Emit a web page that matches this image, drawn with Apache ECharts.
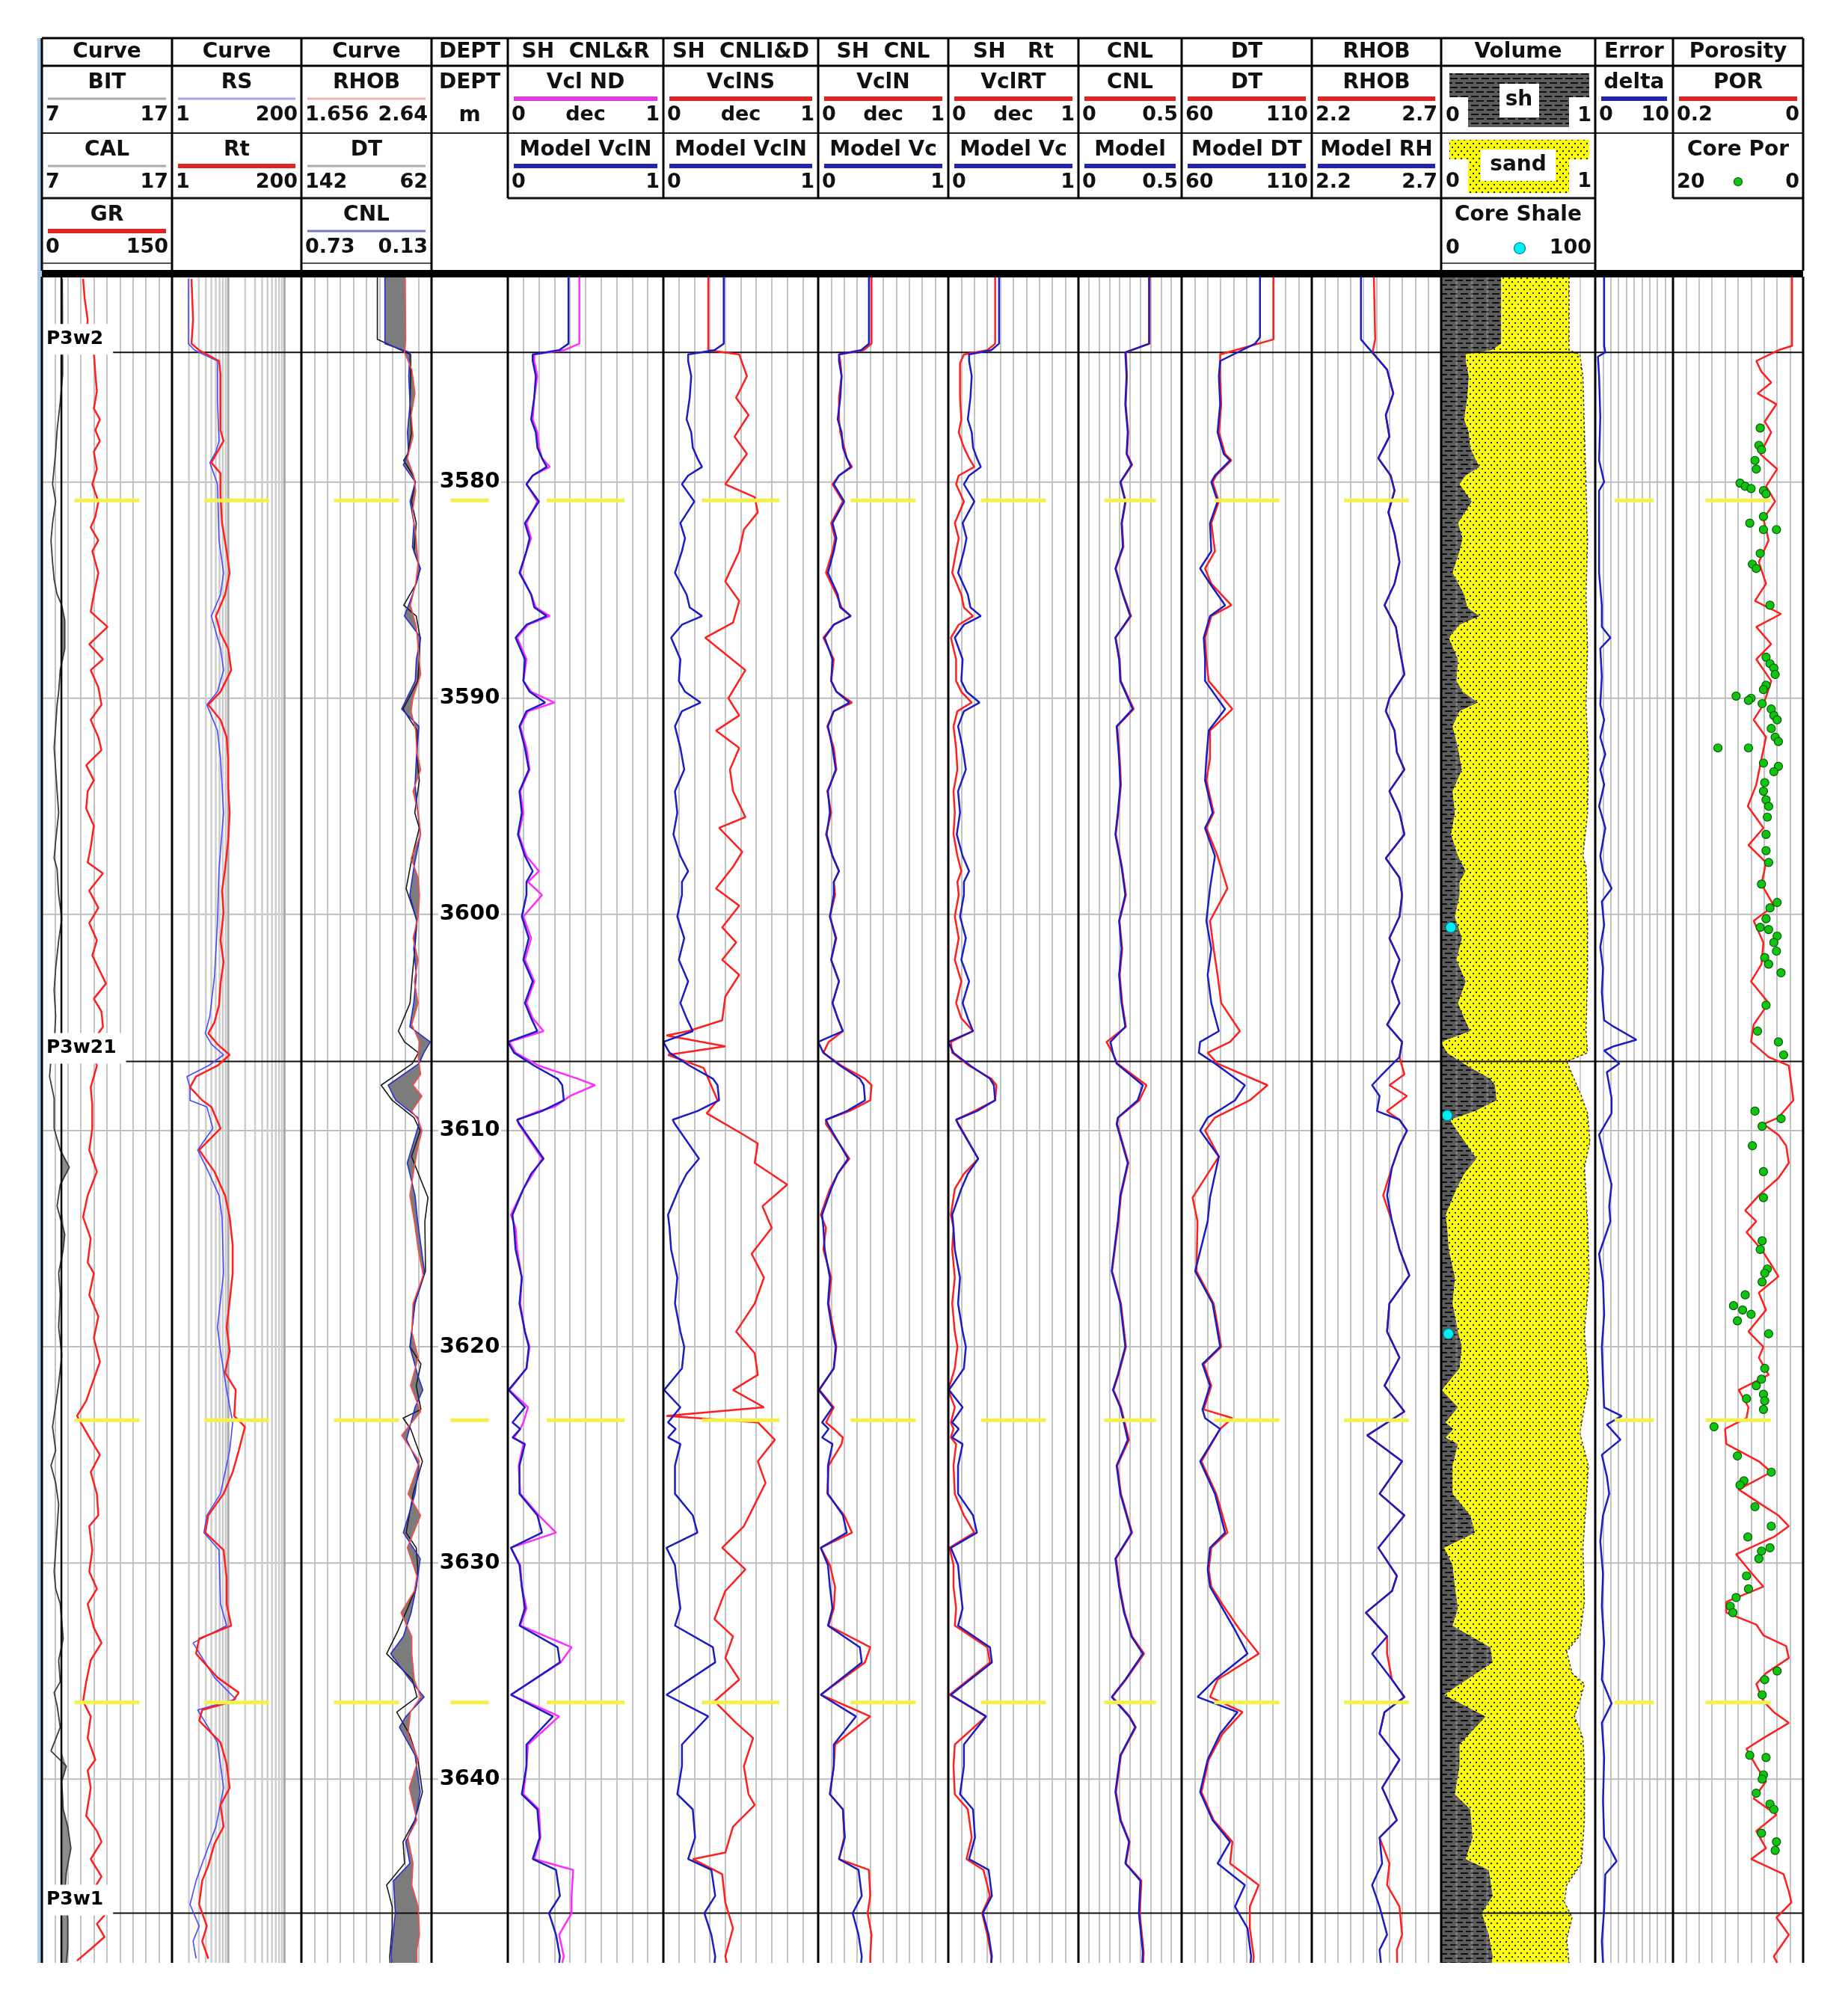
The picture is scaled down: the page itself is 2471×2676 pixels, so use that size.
<!DOCTYPE html>
<html>
<head>
<meta charset="utf-8">
<title>Well log P3w</title>
<script src="https://cdn.jsdelivr.net/npm/echarts@6.0.0/dist/echarts.min.js"></script>
<style>
  html, body { margin: 0; padding: 0; background: #fff; }
  #log { width: 2471px; height: 2676px; }
</style>
</head>
<body>
<div id="log"></div>
<script>
// * depth window and markers
const DEPTH_MIN = 3570.5
const DEPTH_MAX = 3648.5
const DEPTH_TICKS = [3580, 3590, 3600, 3610, 3620, 3630, 3640]
const TOP_NAMES = ['P3w2', 'P3w21', 'P3w1']
const TOP_DEPTHS = [3574.0, 3606.8, 3646.2]
const MARK_DEPTHS = [3580.85, 3623.4, 3636.45]
const LOG_GRID = [2, 3, 4, 5, 6, 7, 8, 9, 10, 20, 30, 40, 50, 60, 70, 80, 90, 100]
const VOL_TICKS = [1, 2, 3, 4, 5, 6, 7, 8, 9]

// * curves, every point is [depth, value]
const BIT = [[3570.5, 8.5], [3648.5, 8.5]]
const CAL = [[3570.6,8.57],[3575.0,8.6],[3576.3,8.41],[3577.6,8.17],[3578.6,8.06],[3580.1,7.82],[3580.9,8.06],[3581.9,7.82],[3582.7,7.7],[3583.7,7.82],[3584.5,7.94],[3585.2,8.17],[3585.7,8.53],[3586.4,8.76],[3587.7,8.76],[3588.7,8.41],[3589.7,8.29],[3590.3,8.17],[3591.3,8.06],[3592.3,7.94],[3593.3,8.06],[3594.3,8.17],[3595.3,8.29],[3596.6,8.06],[3597.4,7.94],[3597.9,8.17],[3599.1,8.29],[3600.2,8.53],[3601.2,8.29],[3602.5,8.06],[3603.5,7.94],[3604.7,8.06],[3606.0,7.94],[3606.7,7.7],[3607.5,7.59],[3608.5,7.94],[3609.9,7.94],[3610.9,8.41],[3611.7,9.11],[3612.5,8.41],[3613.5,8.17],[3614.8,8.76],[3615.5,8.64],[3616.6,8.29],[3617.6,8.41],[3619.1,8.29],[3620.4,8.53],[3621.7,8.29],[3622.7,8.06],[3623.7,7.82],[3624.8,8.06],[3625.5,7.7],[3626.3,8.06],[3627.3,8.29],[3629.4,8.06],[3630.4,7.94],[3631.2,8.06],[3631.9,8.41],[3633.5,8.64],[3634.5,8.29],[3635.5,8.41],[3636.0,7.94],[3636.6,8.17],[3637.6,8.41],[3638.7,7.7],[3639.4,8.88],[3640.1,8.53],[3641.4,8.64],[3642.2,8.99],[3643.2,9.23],[3644.3,8.88],[3645.3,8.76],[3646.5,8.99],[3647.8,8.99],[3648.5,8.88]]
const GR = [[3570.6,47.5],[3571.5,49.3],[3572.5,52.8],[3573.6,51.0],[3574.0,59.9],[3575.0,61.6],[3575.8,63.4],[3576.6,59.9],[3577.1,66.9],[3577.6,61.6],[3578.1,66.9],[3578.6,59.9],[3579.4,63.4],[3580.1,58.1],[3580.9,65.1],[3581.6,61.6],[3582.1,56.3],[3582.7,65.1],[3583.2,58.1],[3584.2,65.1],[3585.2,59.9],[3586.0,56.3],[3586.7,75.7],[3587.5,54.6],[3588.2,70.4],[3588.7,56.3],[3589.5,65.1],[3590.3,68.7],[3591.0,56.3],[3591.8,65.1],[3592.4,68.7],[3593.1,51.1],[3593.8,59.9],[3594.3,52.8],[3595.1,51.1],[3595.9,59.9],[3596.9,56.3],[3597.6,52.8],[3598.1,70.4],[3598.9,54.6],[3599.7,65.1],[3600.4,54.6],[3601.2,63.4],[3601.9,58.1],[3603.2,73.9],[3603.9,59.9],[3604.5,68.7],[3605.2,70.4],[3606.0,56.3],[3607.0,63.4],[3608.0,56.3],[3608.8,58.1],[3609.9,58.1],[3610.9,54.6],[3611.9,63.4],[3613.0,52.8],[3614.0,47.5],[3615.0,56.3],[3616.1,52.8],[3616.6,59.9],[3617.6,54.6],[3618.6,65.1],[3619.6,59.9],[3620.7,66.9],[3621.7,58.1],[3622.5,51.1],[3623.2,40.5],[3624.3,56.3],[3625.0,66.9],[3625.8,56.3],[3626.8,63.4],[3627.8,65.1],[3628.3,54.6],[3629.4,58.1],[3630.4,54.6],[3631.2,63.4],[3631.9,52.8],[3633.0,59.9],[3633.7,68.7],[3634.5,56.3],[3635.5,51.1],[3636.4,47.5],[3637.1,56.3],[3638.1,52.8],[3639.1,61.6],[3639.6,52.8],[3640.4,56.3],[3641.7,51.1],[3642.4,63.4],[3642.9,68.7],[3643.7,56.3],[3644.5,68.7],[3645.2,58.1],[3646.3,72.2],[3646.7,63.4],[3647.3,72.2],[3647.8,58.1],[3648.4,40.5]]
const RT = [[3570.6,2.22],[3572.5,2.37],[3573.6,2.22],[3573.9,3.04],[3574.4,6.85],[3575.0,7.29],[3576.3,7.29],[3577.6,7.29],[3578.1,8.26],[3578.6,6.43],[3579.1,5.01],[3579.6,7.29],[3580.6,7.29],[3581.9,7.76],[3583.2,9.36],[3584.2,10.6],[3585.2,8.79],[3586.2,6.04],[3587.0,7.29],[3587.7,9.96],[3588.7,11.3],[3589.7,7.29],[3590.3,4.42],[3591.0,7.29],[3591.8,9.36],[3592.8,9.96],[3594.1,9.96],[3595.3,10.6],[3596.6,9.96],[3597.9,8.79],[3598.9,7.76],[3599.9,8.26],[3601.2,7.29],[3602.2,8.26],[3603.2,7.29],[3604.2,6.85],[3605.0,5.68],[3605.5,4.42],[3606.0,6.43],[3606.5,10.6],[3607.0,6.43],[3607.5,2.68],[3608.0,2.09],[3608.6,3.44],[3608.9,5.01],[3609.9,7.29],[3610.9,3.04],[3611.9,5.68],[3613.0,8.79],[3614.0,10.6],[3615.3,12.0],[3616.6,12.0],[3617.9,10.6],[3619.1,9.36],[3620.2,10.6],[3621.2,8.79],[3622.0,13.6],[3623.2,12.8],[3623.7,19.8],[3624.8,15.4],[3625.8,12.0],[3626.8,8.26],[3627.8,4.42],[3628.6,3.9],[3629.4,8.26],[3630.7,9.36],[3631.9,9.36],[3632.9,11.3],[3633.5,3.04],[3634.2,2.68],[3635.3,6.43],[3636.0,15.4],[3636.4,12.0],[3636.8,3.44],[3637.3,3.04],[3638.3,7.29],[3639.3,9.36],[3640.4,10.6],[3641.2,7.29],[3642.2,8.26],[3643.0,5.68],[3644.0,4.42],[3644.7,3.44],[3645.8,3.04],[3646.8,4.16],[3647.5,3.44],[3648.3,4.42]]
const RS = [[3570.6,1.96],[3573.6,1.96],[3573.9,2.52],[3574.4,6.43],[3576.3,6.43],[3578.1,6.85],[3578.6,6.04],[3579.1,4.71],[3580.1,6.43],[3582.7,6.85],[3584.2,8.26],[3585.2,7.29],[3586.2,5.01],[3587.7,7.29],[3588.7,8.26],[3589.7,6.43],[3590.3,4.16],[3591.5,6.43],[3592.8,7.29],[3595.3,8.26],[3597.9,6.85],[3600.4,6.43],[3602.9,5.68],[3604.7,4.71],[3605.5,3.9],[3606.0,5.01],[3606.5,8.26],[3607.0,4.42],[3607.5,1.84],[3608.0,2.09],[3608.6,2.09],[3608.9,4.16],[3609.9,5.33],[3610.9,2.86],[3611.9,4.42],[3613.0,6.85],[3614.0,7.76],[3616.6,8.26],[3619.1,6.43],[3620.2,7.29],[3622.0,9.36],[3623.5,12.0],[3624.8,10.6],[3626.8,7.29],[3627.8,4.16],[3628.6,3.7],[3629.4,6.85],[3631.9,7.29],[3632.9,9.36],[3633.7,2.37],[3635.3,5.68],[3636.3,13.6],[3636.8,2.86],[3638.3,6.43],[3640.4,8.26],[3642.2,6.04],[3643.9,3.44],[3644.7,2.68],[3645.8,2.09],[3646.8,3.04],[3647.5,2.37],[3648.3,2.68]]
const MODEL_VCL = [[3570.5,0.39],[3573.6,0.39],[3573.9,0.33],[3574.1,0.16],[3574.4,0.16],[3575.1,0.18],[3576.1,0.17],[3577.1,0.15],[3577.7,0.18],[3578.4,0.19],[3578.9,0.22],[3579.3,0.25],[3579.7,0.16],[3580.1,0.12],[3580.9,0.2],[3581.9,0.11],[3582.6,0.14],[3583.2,0.12],[3584.2,0.075],[3585.2,0.15],[3585.8,0.17],[3586.2,0.25],[3586.6,0.12],[3587.2,0.05],[3588.2,0.11],[3589.2,0.1],[3589.7,0.14],[3590.2,0.24],[3590.6,0.12],[3591.3,0.075],[3592.3,0.11],[3593.3,0.135],[3594.3,0.075],[3595.3,0.09],[3596.3,0.065],[3597.3,0.11],[3598.0,0.16],[3598.5,0.12],[3599.1,0.12],[3600.1,0.09],[3601.1,0.135],[3602.1,0.1],[3603.1,0.16],[3604.1,0.11],[3604.8,0.15],[3605.4,0.19],[3605.9,0.0],[3606.4,0.04],[3607.0,0.17],[3607.6,0.32],[3607.9,0.35],[3608.6,0.36],[3609.1,0.22],[3609.5,0.06],[3609.7,0.075],[3611.3,0.23],[3612.0,0.15],[3612.7,0.1],[3613.9,0.03],[3614.5,0.04],[3615.5,0.05],[3616.8,0.09],[3618.0,0.075],[3619.3,0.11],[3620.0,0.135],[3621.0,0.12],[3622.0,0.005],[3622.8,0.11],[3623.5,0.03],[3623.8,0.08],[3624.2,0.03],[3624.5,0.11],[3625.5,0.075],[3626.8,0.075],[3627.8,0.19],[3628.6,0.22],[3629.3,0.02],[3630.1,0.075],[3631.1,0.09],[3632.1,0.11],[3632.9,0.075],[3633.9,0.32],[3634.6,0.335],[3636.1,0.02],[3637.1,0.29],[3638.4,0.12],[3639.4,0.12],[3640.7,0.09],[3641.4,0.19],[3642.7,0.205],[3643.7,0.16],[3644.2,0.31],[3645.4,0.335],[3646.2,0.265],[3647.2,0.31],[3648.2,0.335],[3648.5,0.33]]
const VCL_ND = [[3570.5,0.46],[3573.6,0.46],[3573.9,0.36],[3574.1,0.17],[3574.4,0.17],[3575.1,0.19],[3576.1,0.17],[3577.1,0.16],[3577.7,0.19],[3578.4,0.2],[3578.9,0.22],[3579.3,0.27],[3579.7,0.16],[3580.1,0.12],[3580.9,0.19],[3581.9,0.12],[3582.6,0.15],[3583.2,0.12],[3584.2,0.08],[3585.2,0.15],[3585.8,0.18],[3586.2,0.27],[3586.6,0.13],[3587.2,0.06],[3588.2,0.12],[3589.2,0.1],[3589.7,0.15],[3590.2,0.3],[3590.6,0.13],[3591.3,0.08],[3592.3,0.12],[3593.3,0.14],[3594.3,0.08],[3595.3,0.1],[3596.3,0.07],[3597.3,0.12],[3598.0,0.2],[3598.5,0.13],[3599.1,0.22],[3600.1,0.1],[3601.1,0.15],[3602.1,0.11],[3603.1,0.17],[3604.1,0.12],[3604.8,0.16],[3605.4,0.23],[3605.9,0.01],[3606.4,0.05],[3607.0,0.2],[3607.6,0.45],[3607.9,0.56],[3608.4,0.4],[3608.9,0.3],[3609.1,0.2],[3609.5,0.06],[3609.7,0.07],[3611.3,0.22],[3612.0,0.16],[3612.7,0.1],[3613.9,0.02],[3614.5,0.05],[3615.5,0.06],[3616.8,0.09],[3618.0,0.08],[3619.3,0.11],[3620.0,0.14],[3621.0,0.12],[3622.0,0.01],[3622.8,0.13],[3623.5,0.1],[3623.8,0.08],[3624.2,0.04],[3624.5,0.1],[3625.5,0.07],[3626.8,0.08],[3627.8,0.2],[3628.6,0.31],[3629.3,0.02],[3630.1,0.08],[3631.1,0.09],[3632.1,0.12],[3632.9,0.08],[3633.9,0.41],[3634.6,0.34],[3636.1,0.02],[3637.1,0.33],[3638.4,0.13],[3639.4,0.12],[3640.7,0.1],[3641.4,0.2],[3642.7,0.21],[3643.7,0.17],[3644.2,0.42],[3645.4,0.41],[3646.2,0.41],[3647.2,0.33],[3648.2,0.36],[3648.5,0.35]]
const VCLNS = [[3570.5,0.29],[3573.9,0.29],[3574.1,0.49],[3575.1,0.54],[3576.1,0.47],[3576.9,0.55],[3577.9,0.46],[3578.7,0.54],[3579.4,0.47],[3580.1,0.4],[3580.7,0.59],[3581.4,0.61],[3582.2,0.52],[3583.2,0.49],[3584.6,0.4],[3585.5,0.49],[3586.5,0.45],[3587.2,0.27],[3588.7,0.53],[3590.0,0.42],[3590.8,0.49],[3591.5,0.34],[3592.3,0.49],[3593.3,0.43],[3594.3,0.45],[3595.5,0.53],[3596.0,0.36],[3597.1,0.51],[3597.8,0.45],[3598.8,0.34],[3599.6,0.49],[3600.6,0.38],[3601.3,0.47],[3602.1,0.38],[3602.8,0.49],[3603.8,0.4],[3604.9,0.38],[3605.4,0.16],[3605.6,0.02],[3606.1,0.4],[3606.5,0.03],[3607.1,0.26],[3608.6,0.35],[3609.2,0.28],[3610.2,0.52],[3610.6,0.61],[3611.5,0.59],[3612.5,0.8],[3613.5,0.64],[3614.5,0.7],[3615.7,0.57],[3616.8,0.65],[3618.0,0.59],[3619.3,0.47],[3620.3,0.59],[3621.3,0.61],[3622.0,0.45],[3622.8,0.65],[3623.2,0.02],[3623.5,0.61],[3624.3,0.72],[3625.3,0.61],[3626.3,0.66],[3627.3,0.59],[3628.3,0.52],[3629.3,0.38],[3630.3,0.53],[3631.3,0.4],[3632.6,0.33],[3633.4,0.45],[3634.4,0.4],[3635.4,0.49],[3636.4,0.33],[3637.4,0.47],[3638.1,0.58],[3639.4,0.52],[3640.7,0.55],[3641.2,0.59],[3642.2,0.45],[3643.4,0.4],[3643.7,0.19],[3644.4,0.38],[3645.7,0.4],[3646.9,0.45],[3648.2,0.4],[3648.5,0.41]]
const VCLN = [[3570.5,0.41],[3573.6,0.41],[3573.9,0.35],[3574.1,0.16],[3574.4,0.17],[3575.1,0.18],[3576.1,0.16],[3577.1,0.16],[3577.7,0.17],[3578.4,0.2],[3578.9,0.22],[3579.3,0.26],[3579.7,0.16],[3580.1,0.11],[3580.9,0.19],[3581.9,0.1],[3582.6,0.13],[3583.2,0.11],[3584.2,0.06],[3585.2,0.14],[3585.8,0.18],[3586.2,0.25],[3586.6,0.12],[3587.2,0.04],[3588.2,0.12],[3589.2,0.1],[3589.7,0.14],[3590.2,0.26],[3590.6,0.12],[3591.3,0.07],[3592.3,0.12],[3593.3,0.14],[3594.3,0.07],[3595.3,0.1],[3596.3,0.06],[3597.3,0.11],[3598.0,0.16],[3598.5,0.12],[3599.1,0.13],[3600.1,0.09],[3601.1,0.14],[3602.1,0.1],[3603.1,0.16],[3604.1,0.11],[3604.8,0.15],[3605.4,0.19],[3605.9,0.08],[3606.4,0.04],[3607.0,0.18],[3607.6,0.36],[3607.9,0.41],[3608.6,0.4],[3609.1,0.24],[3609.5,0.06],[3609.7,0.06],[3611.3,0.24],[3612.0,0.15],[3612.7,0.09],[3613.9,0.02],[3614.5,0.06],[3615.5,0.04],[3616.8,0.1],[3618.0,0.08],[3619.3,0.12],[3620.0,0.14],[3621.0,0.12],[3622.0,0.01],[3622.8,0.12],[3623.5,0.06],[3623.8,0.12],[3624.2,0.19],[3624.5,0.18],[3625.5,0.08],[3626.8,0.07],[3627.8,0.2],[3628.6,0.26],[3629.3,0.02],[3630.1,0.09],[3631.1,0.13],[3632.1,0.12],[3632.9,0.08],[3633.9,0.4],[3634.6,0.36],[3636.1,0.02],[3637.1,0.4],[3638.4,0.13],[3639.4,0.12],[3640.7,0.09],[3641.4,0.19],[3642.7,0.2],[3643.7,0.16],[3644.2,0.39],[3645.4,0.4],[3646.2,0.38],[3647.2,0.41],[3648.2,0.4],[3648.5,0.4]]
const VCLRT = [[3570.5,0.36],[3573.6,0.36],[3573.9,0.3],[3574.1,0.12],[3574.5,0.09],[3576.1,0.09],[3577.1,0.1],[3577.7,0.08],[3578.4,0.12],[3578.9,0.16],[3579.3,0.2],[3579.7,0.08],[3580.1,0.06],[3580.9,0.12],[3581.9,0.05],[3582.6,0.08],[3583.2,0.06],[3584.2,0.03],[3585.2,0.1],[3585.8,0.12],[3586.2,0.19],[3586.6,0.08],[3587.2,0.02],[3588.2,0.06],[3589.2,0.06],[3589.7,0.1],[3590.2,0.18],[3590.6,0.07],[3591.3,0.04],[3592.3,0.06],[3593.3,0.07],[3594.3,0.04],[3595.3,0.05],[3596.3,0.04],[3597.3,0.07],[3598.0,0.1],[3598.5,0.07],[3599.1,0.08],[3600.1,0.05],[3601.1,0.08],[3602.1,0.05],[3603.1,0.1],[3604.1,0.06],[3604.8,0.1],[3605.4,0.19],[3605.9,0.02],[3606.4,0.03],[3607.0,0.16],[3607.6,0.33],[3607.9,0.37],[3608.6,0.36],[3609.1,0.2],[3609.5,0.06],[3609.7,0.08],[3611.3,0.23],[3612.0,0.12],[3612.7,0.05],[3613.9,0.02],[3614.5,0.04],[3615.5,0.03],[3616.8,0.05],[3618.0,0.03],[3619.3,0.05],[3620.0,0.07],[3621.0,0.05],[3622.0,0.0],[3622.8,0.05],[3623.5,0.02],[3623.8,0.04],[3624.2,0.02],[3624.5,0.06],[3625.5,0.04],[3626.8,0.05],[3627.8,0.12],[3628.6,0.2],[3629.3,0.01],[3630.1,0.04],[3631.1,0.04],[3632.1,0.06],[3632.9,0.05],[3633.9,0.3],[3634.6,0.32],[3636.1,0.01],[3637.1,0.29],[3638.4,0.05],[3639.4,0.04],[3640.7,0.05],[3641.4,0.15],[3642.7,0.18],[3643.7,0.14],[3644.2,0.27],[3645.4,0.32],[3646.2,0.26],[3647.2,0.3],[3648.2,0.33],[3648.5,0.33]]
const MODEL_CNL = [[3570.5,0.342],[3573.6,0.342],[3574.0,0.227],[3575.1,0.233],[3576.4,0.227],[3577.7,0.239],[3578.7,0.233],[3579.2,0.257],[3580.0,0.203],[3580.9,0.227],[3581.9,0.209],[3583.0,0.215],[3584.0,0.179],[3585.2,0.215],[3586.2,0.251],[3587.2,0.179],[3588.2,0.197],[3589.2,0.203],[3590.5,0.263],[3591.3,0.185],[3592.8,0.197],[3594.0,0.203],[3595.3,0.191],[3596.3,0.179],[3597.8,0.209],[3599.1,0.227],[3600.3,0.197],[3601.6,0.209],[3602.8,0.197],[3604.1,0.209],[3605.2,0.227],[3605.9,0.155],[3606.4,0.167],[3606.9,0.185],[3607.9,0.312],[3608.6,0.287],[3609.4,0.191],[3609.7,0.185],[3611.5,0.239],[3613.0,0.203],[3614.2,0.191],[3616.5,0.161],[3618.0,0.203],[3620.0,0.227],[3621.3,0.191],[3622.0,0.167],[3622.8,0.203],[3624.3,0.239],[3625.5,0.185],[3626.8,0.203],[3628.6,0.257],[3629.8,0.179],[3631.1,0.197],[3632.3,0.221],[3633.4,0.257],[3634.2,0.312],[3635.4,0.227],[3636.2,0.161],[3637.1,0.245],[3637.6,0.275],[3638.9,0.203],[3640.6,0.179],[3641.9,0.203],[3642.9,0.245],[3643.9,0.227],[3644.7,0.3],[3646.2,0.293],[3648.0,0.312],[3648.5,0.31]]
const CNL = [[3570.5,0.345],[3573.6,0.345],[3574.0,0.23],[3575.1,0.235],[3576.4,0.229],[3577.7,0.241],[3578.7,0.236],[3579.2,0.26],[3580.0,0.205],[3580.9,0.229],[3581.9,0.211],[3583.0,0.218],[3584.0,0.181],[3585.2,0.217],[3586.2,0.255],[3587.2,0.18],[3588.2,0.2],[3589.2,0.205],[3590.5,0.268],[3591.3,0.188],[3592.8,0.2],[3594.0,0.206],[3595.3,0.193],[3596.3,0.181],[3597.8,0.211],[3599.1,0.23],[3600.3,0.199],[3601.6,0.212],[3602.8,0.2],[3604.1,0.212],[3605.2,0.23],[3605.9,0.136],[3606.4,0.165],[3606.9,0.188],[3607.9,0.33],[3608.6,0.295],[3609.4,0.193],[3609.7,0.188],[3611.5,0.242],[3613.0,0.206],[3614.2,0.194],[3616.5,0.163],[3618.0,0.206],[3620.0,0.23],[3621.3,0.194],[3622.0,0.17],[3622.8,0.206],[3624.3,0.245],[3625.5,0.188],[3626.8,0.206],[3628.6,0.26],[3629.8,0.182],[3631.1,0.2],[3632.3,0.224],[3633.4,0.26],[3634.2,0.318],[3635.4,0.23],[3636.2,0.164],[3637.1,0.248],[3637.6,0.278],[3638.9,0.206],[3640.6,0.182],[3641.9,0.206],[3642.9,0.248],[3643.9,0.23],[3644.7,0.305],[3646.2,0.297],[3648.0,0.316],[3648.5,0.314]]
const MODEL_DT = [[3570.5,90.1],[3573.3,90.1],[3573.6,88.2],[3574.4,74.8],[3575.1,74.3],[3576.4,74.8],[3577.7,73.8],[3578.7,76.2],[3579.0,78.6],[3579.7,72.8],[3580.0,71.4],[3580.9,73.8],[3581.9,70.9],[3583.2,71.4],[3584.0,67.1],[3584.7,70.9],[3585.7,76.7],[3586.2,70.9],[3587.2,68.5],[3588.2,69.0],[3589.2,69.0],[3590.5,76.7],[3591.5,70.4],[3592.8,69.5],[3593.8,69.0],[3595.3,71.9],[3596.0,69.0],[3597.3,72.8],[3598.8,70.9],[3600.3,69.5],[3601.6,71.4],[3602.8,70.0],[3604.1,71.4],[3605.4,74.3],[3605.9,67.1],[3606.4,66.6],[3606.9,72.8],[3607.9,84.3],[3608.6,80.5],[3609.4,70.0],[3610.0,67.1],[3611.2,74.3],[3613.1,70.9],[3614.2,70.0],[3616.5,65.2],[3618.0,71.9],[3620.0,74.8],[3620.8,68.0],[3621.8,70.9],[3622.9,68.0],[3623.3,69.0],[3623.8,74.8],[3625.3,67.1],[3626.8,72.8],[3628.6,76.7],[3629.3,70.9],[3630.3,70.0],[3631.1,70.9],[3632.1,75.7],[3633.1,80.5],[3634.2,85.3],[3635.4,72.8],[3636.2,66.1],[3636.9,81.5],[3637.9,74.8],[3639.1,70.0],[3640.6,67.1],[3641.9,71.9],[3642.9,78.6],[3643.9,73.8],[3644.9,84.3],[3645.9,80.5],[3646.9,85.3],[3648.2,86.7],[3648.5,86.5]]
const DT = [[3570.5,95.3],[3573.4,95.3],[3574.1,74.8],[3575.1,74.8],[3576.4,75.2],[3577.7,74.3],[3578.7,76.7],[3579.0,79.1],[3579.7,73.3],[3580.0,71.9],[3580.9,74.3],[3581.9,71.4],[3583.2,72.8],[3584.0,69.0],[3584.7,71.4],[3585.7,79.1],[3586.2,71.4],[3587.2,69.0],[3588.2,69.5],[3589.2,70.4],[3590.5,79.5],[3591.5,70.9],[3592.8,70.9],[3593.8,69.5],[3595.3,72.3],[3596.0,69.5],[3597.3,73.8],[3598.8,77.6],[3600.3,70.9],[3601.6,72.3],[3602.8,73.8],[3604.1,75.2],[3605.4,82.4],[3605.9,78.6],[3606.4,70.0],[3606.9,73.8],[3607.9,93.0],[3608.6,86.2],[3609.4,72.8],[3610.0,69.0],[3611.2,74.3],[3613.1,64.2],[3614.2,66.1],[3616.5,65.7],[3618.0,72.3],[3620.0,75.2],[3620.8,68.5],[3621.8,71.4],[3622.9,68.5],[3623.3,79.5],[3623.8,74.8],[3625.3,67.6],[3626.8,73.3],[3628.6,77.6],[3629.3,71.4],[3630.3,70.4],[3631.1,71.4],[3632.1,76.7],[3633.1,82.4],[3634.2,89.6],[3635.4,73.8],[3636.2,70.9],[3636.9,83.4],[3637.9,75.7],[3639.1,70.4],[3640.6,67.6],[3641.9,72.3],[3642.9,79.5],[3643.9,78.6],[3644.9,89.6],[3645.9,86.2],[3646.9,86.2],[3648.2,87.7],[3648.5,87.5]]
const MODEL_RHOB = [[3570.5,2.39],[3573.4,2.39],[3574.0,2.433],[3574.8,2.491],[3575.9,2.515],[3576.9,2.486],[3577.9,2.5],[3578.9,2.457],[3579.7,2.505],[3580.4,2.52],[3581.4,2.496],[3582.4,2.52],[3583.7,2.539],[3584.7,2.52],[3585.7,2.481],[3586.7,2.525],[3587.7,2.539],[3588.9,2.558],[3590.0,2.5],[3590.6,2.486],[3591.5,2.52],[3592.5,2.529],[3593.3,2.558],[3594.3,2.5],[3595.3,2.539],[3596.3,2.558],[3597.4,2.486],[3598.3,2.539],[3599.1,2.549],[3600.1,2.539],[3601.1,2.5],[3602.1,2.539],[3603.1,2.51],[3604.1,2.539],[3605.1,2.491],[3605.9,2.549],[3606.6,2.539],[3607.4,2.472],[3607.9,2.433],[3608.4,2.462],[3609.1,2.452],[3609.5,2.539],[3610.0,2.568],[3610.7,2.539],[3611.7,2.51],[3613.0,2.491],[3614.2,2.51],[3615.5,2.539],[3616.7,2.577],[3618.0,2.5],[3619.3,2.491],[3620.5,2.539],[3621.8,2.481],[3623.0,2.558],[3624.1,2.414],[3625.3,2.549],[3626.8,2.462],[3627.8,2.558],[3629.3,2.457],[3630.6,2.529],[3631.3,2.51],[3632.3,2.409],[3633.4,2.491],[3634.2,2.433],[3635.4,2.51],[3636.2,2.558],[3636.9,2.481],[3637.9,2.462],[3639.1,2.539],[3640.4,2.472],[3641.9,2.529],[3642.7,2.462],[3643.9,2.472],[3644.9,2.433],[3645.9,2.462],[3647.2,2.491],[3647.9,2.462],[3648.5,2.467]]
const RHOB = [[3570.5,2.44],[3573.4,2.445],[3574.0,2.435],[3574.8,2.491],[3575.9,2.515],[3576.9,2.486],[3577.9,2.5],[3578.9,2.457],[3579.7,2.505],[3580.4,2.52],[3581.4,2.496],[3582.4,2.52],[3583.7,2.539],[3584.7,2.52],[3585.7,2.481],[3586.7,2.525],[3587.7,2.539],[3588.9,2.558],[3590.0,2.5],[3590.6,2.486],[3591.5,2.52],[3592.5,2.529],[3593.3,2.558],[3594.3,2.5],[3595.3,2.539],[3596.3,2.558],[3597.4,2.486],[3598.3,2.539],[3599.1,2.549],[3600.1,2.539],[3601.1,2.5],[3602.1,2.539],[3603.1,2.51],[3604.1,2.539],[3605.1,2.491],[3605.9,2.549],[3606.6,2.539],[3607.4,2.558],[3607.9,2.5],[3608.4,2.568],[3609.1,2.49],[3609.5,2.539],[3610.0,2.568],[3610.7,2.539],[3611.7,2.51],[3613.0,2.476],[3614.2,2.51],[3615.5,2.539],[3616.7,2.577],[3618.0,2.5],[3619.3,2.491],[3620.5,2.539],[3621.8,2.481],[3623.0,2.558],[3624.1,2.414],[3625.3,2.549],[3626.8,2.462],[3627.8,2.558],[3629.3,2.457],[3630.6,2.529],[3631.3,2.51],[3632.3,2.409],[3633.4,2.491],[3634.2,2.491],[3635.4,2.51],[3636.2,2.558],[3636.9,2.481],[3637.9,2.462],[3639.1,2.539],[3640.4,2.472],[3641.9,2.529],[3642.7,2.462],[3643.9,2.5],[3644.9,2.491],[3645.9,2.539],[3647.2,2.549],[3647.9,2.529],[3648.5,2.53]]
const SAND_RIGHT = [[3570.5,0.83],[3573.9,0.83],[3574.1,0.9],[3575.1,0.92],[3577.7,0.93],[3580.2,0.94],[3582.7,0.95],[3585.2,0.94],[3587.7,0.95],[3590.3,0.94],[3592.8,0.955],[3595.3,0.95],[3597.3,0.92],[3597.8,0.94],[3600.3,0.95],[3602.8,0.95],[3605.4,0.94],[3606.4,0.95],[3606.8,0.815],[3607.4,0.85],[3608.4,0.91],[3609.2,0.95],[3610.5,0.965],[3611.7,0.93],[3614.2,0.95],[3616.75,0.96],[3619.3,0.93],[3621.8,0.955],[3624.0,0.9],[3625.5,0.955],[3626.8,0.945],[3629.3,0.92],[3631.8,0.93],[3633.35,0.9],[3634.1,0.815],[3635.1,0.85],[3635.6,0.93],[3636.4,0.9],[3637.1,0.865],[3638.1,0.92],[3639.4,0.93],[3641.9,0.93],[3643.9,0.91],[3644.9,0.815],[3645.7,0.8],[3646.4,0.85],[3647.4,0.815],[3648.5,0.83]]
const CORE_SH = [[3600.6,6.3],[3609.3,3.9],[3619.4,4.7]]
const DELTA = [[3570.5,1.15],[3573.7,1.15],[3574.0,1.3],[3574.2,0.35],[3575.1,0.5],[3577.0,0.65],[3579.0,0.5],[3580.0,1.15],[3580.4,0.5],[3582.2,0.5],[3584.2,0.5],[3585.7,0.85],[3586.7,0.85],[3587.2,1.95],[3587.7,0.65],[3589.0,0.85],[3590.3,0.65],[3591.0,1.15],[3591.8,0.65],[3592.6,1.3],[3593.3,0.65],[3594.0,1.15],[3595.0,0.5],[3596.0,1.3],[3597.3,0.65],[3598.0,1.0],[3598.8,2.1],[3599.4,0.85],[3600.5,1.15],[3601.5,0.65],[3602.5,1.0],[3603.6,0.85],[3604.9,1.15],[3605.2,2.4],[3605.8,5.3],[3606.1,2.4],[3606.3,1.15],[3606.9,3.1],[3607.3,1.5],[3607.9,1.8],[3608.5,2.1],[3609.2,2.1],[3610.2,0.5],[3611.2,1.15],[3612.5,2.1],[3613.5,1.8],[3614.2,1.95],[3615.7,0.5],[3617.0,1.0],[3618.5,1.15],[3620.0,0.85],[3621.5,1.0],[3622.8,1.15],[3623.2,3.4],[3623.6,1.5],[3624.3,3.25],[3625.0,0.85],[3626.0,1.5],[3626.8,1.8],[3627.8,1.0],[3629.0,0.65],[3630.5,1.0],[3632.0,0.85],[3633.7,1.15],[3635.4,0.85],[3636.5,2.1],[3637.4,0.85],[3639.0,1.15],[3641.0,1.0],[3642.7,1.15],[3643.8,2.75],[3644.4,1.3],[3646.0,1.15],[3647.5,0.85],[3648.5,1.0]]
const POR = [[3570.5,0.017],[3573.7,0.017],[3573.9,0.038],[3574.4,0.072],[3574.9,0.064],[3575.4,0.049],[3575.9,0.07],[3576.4,0.041],[3577.2,0.059],[3577.7,0.049],[3578.7,0.066],[3579.4,0.04],[3580.2,0.057],[3580.9,0.043],[3581.7,0.061],[3582.7,0.053],[3583.7,0.068],[3584.7,0.057],[3585.5,0.074],[3586.1,0.034],[3586.7,0.072],[3587.5,0.049],[3588.2,0.072],[3589.2,0.049],[3590.3,0.061],[3591.0,0.076],[3591.8,0.057],[3592.8,0.064],[3594.0,0.072],[3595.0,0.085],[3596.0,0.061],[3596.8,0.084],[3597.6,0.057],[3598.6,0.064],[3599.6,0.045],[3600.3,0.076],[3601.3,0.061],[3602.3,0.064],[3603.1,0.08],[3604.1,0.053],[3605.1,0.076],[3605.9,0.08],[3606.6,0.053],[3607.0,0.022],[3607.9,0.018],[3608.6,0.015],[3609.4,0.038],[3609.7,0.061],[3610.2,0.038],[3610.7,0.026],[3611.5,0.022],[3612.2,0.038],[3613.0,0.068],[3613.7,0.089],[3614.2,0.072],[3614.7,0.087],[3615.5,0.064],[3616.2,0.049],[3616.75,0.038],[3617.5,0.068],[3618.3,0.057],[3619.3,0.084],[3620.0,0.061],[3620.5,0.068],[3621.3,0.053],[3622.0,0.099],[3622.8,0.084],[3623.3,0.087],[3623.8,0.12],[3624.5,0.118],[3625.3,0.068],[3625.8,0.049],[3626.6,0.099],[3627.3,0.064],[3627.8,0.038],[3628.3,0.022],[3628.8,0.045],[3629.6,0.103],[3630.3,0.084],[3631.1,0.061],[3631.8,0.118],[3632.3,0.118],[3632.85,0.072],[3633.35,0.061],[3633.85,0.026],[3634.4,0.022],[3635.1,0.057],[3635.6,0.072],[3636.4,0.061],[3636.9,0.045],[3637.4,0.022],[3638.1,0.061],[3638.6,0.087],[3639.4,0.072],[3640.1,0.057],[3640.9,0.076],[3641.65,0.041],[3642.4,0.072],[3643.2,0.057],[3643.7,0.08],[3644.4,0.03],[3645.2,0.022],[3645.7,0.018],[3646.4,0.041],[3647.2,0.022],[3648.2,0.045],[3648.5,0.04]]
const CORE_POR = [[3577.5,6.6],[3578.3,6.8],[3578.5,6.4],[3579.0,7.4],[3579.4,7.2],[3580.05,9.7],[3580.2,8.9],[3580.3,8.0],[3580.4,6.1],[3580.55,5.7],[3581.6,6.1],[3581.9,8.2],[3582.2,6.1],[3582.2,4.1],[3583.3,6.6],[3583.8,7.8],[3584.0,7.2],[3585.7,5.1],[3588.1,5.7],[3588.4,5.1],[3588.6,4.5],[3588.9,4.3],[3589.4,5.7],[3589.6,6.1],[3589.9,10.3],[3590.0,8.0],[3590.1,8.4],[3590.25,6.3],[3590.5,4.9],[3590.8,4.5],[3591.0,4.0],[3591.4,4.9],[3591.8,4.3],[3592.0,3.8],[3592.3,13.1],[3592.3,8.4],[3593.0,6.1],[3593.15,3.8],[3593.4,4.5],[3593.9,5.9],[3594.3,6.1],[3594.7,5.7],[3595.0,5.3],[3595.5,5.5],[3596.3,5.7],[3597.05,5.7],[3597.6,5.3],[3598.6,6.4],[3599.45,4.0],[3599.7,5.1],[3600.2,5.7],[3600.6,6.6],[3600.7,5.3],[3601.0,4.0],[3601.3,4.5],[3601.7,4.1],[3602.0,5.9],[3602.3,5.3],[3602.7,3.4],[3604.2,5.7],[3605.4,7.0],[3605.9,3.8],[3606.5,3.0],[3609.1,7.4],[3609.45,3.4],[3609.8,6.3],[3610.7,7.8],[3611.9,6.1],[3613.1,6.1],[3615.1,6.3],[3615.5,6.6],[3616.4,5.5],[3616.6,5.9],[3617.0,6.3],[3617.6,8.9],[3618.1,10.7],[3618.3,9.3],[3618.5,8.0],[3618.8,10.1],[3619.4,5.3],[3621.0,5.9],[3621.5,6.4],[3621.8,7.2],[3622.2,6.1],[3622.4,8.7],[3622.5,5.9],[3622.9,6.1],[3623.7,13.7],[3625.05,10.1],[3625.8,4.9],[3626.2,9.1],[3626.4,9.7],[3627.4,7.4],[3628.3,4.9],[3628.8,8.5],[3629.3,5.1],[3629.45,6.4],[3629.8,6.8],[3630.6,8.7],[3631.2,8.4],[3631.6,10.3],[3632.0,11.2],[3632.3,10.8],[3635.0,4.0],[3635.4,5.9],[3636.1,6.3],[3638.9,8.2],[3639.0,5.7],[3639.8,6.1],[3640.0,6.3],[3640.65,7.2],[3641.15,5.1],[3641.4,4.5],[3642.5,6.4],[3642.9,4.1],[3643.3,4.3]]

// * header texts
const HEAD_TITLES = ['Curve', 'Curve', 'Curve', 'DEPT', 'SH  CNL&R', 'SH  CNLI&D', 'SH  CNL', 'SH   Rt', 'CNL', 'DT', 'RHOB', 'Volume', 'Error', 'Porosity']
const RED = '#ff1f1f'
const BLUE = '#1c1cc4'
const MAGENTA = '#ff2cff'
const HEAD_RED = '#e02424'
const HEAD_BLUE = '#2323b0'
// [name, line colour, line width, left label, right label, middle label]
const HEAD_ROWS = [
  [['BIT', '#aaaaaa', 3, '7', '17'], ['CAL', '#aaaaaa', 3, '7', '17'], ['GR', HEAD_RED, 6, '0', '150']],
  [['RS', '#a6a6e4', 3, '1', '200'], ['Rt', HEAD_RED, 6, '1', '200']],
  [['RHOB', '#f2b2b2', 3, '1.656', '2.64'], ['DT', '#aaaaaa', 3, '142', '62'], ['CNL', '#7676c4', 3, '0.73', '0.13']],
  null,
  [['Vcl ND', '#e23ae2', 6, '0', '1', 'dec'], ['Model VclN', HEAD_BLUE, 6, '0', '1']],
  [['VclNS', HEAD_RED, 6, '0', '1', 'dec'], ['Model VclN', HEAD_BLUE, 6, '0', '1']],
  [['VclN', HEAD_RED, 6, '0', '1', 'dec'], ['Model Vc', HEAD_BLUE, 6, '0', '1']],
  [['VclRT', HEAD_RED, 6, '0', '1', 'dec'], ['Model Vc', HEAD_BLUE, 6, '0', '1']],
  [['CNL', HEAD_RED, 6, '0', '0.5'], ['Model', HEAD_BLUE, 6, '0', '0.5']],
  [['DT', HEAD_RED, 6, '60', '110'], ['Model DT', HEAD_BLUE, 6, '60', '110']],
  [['RHOB', HEAD_RED, 6, '2.2', '2.7'], ['Model RH', HEAD_BLUE, 6, '2.2', '2.7']],
  null,
  [['delta', HEAD_BLUE, 6, '0', '10']],
  [['POR', HEAD_RED, 6, '0.2', '0'], ['Core Por', null, 0, '20', '0']]
]

// * layout
const X = [56, 230, 403, 577, 679, 887, 1094, 1268, 1442, 1580, 1754, 1927, 2133, 2237, 2411]
const GRID_TOP = 370
const GRID_BOTTOM = 2625
const ROW_TOP = [88, 178, 265]
const F_HEAD = 'bold 28px "DejaVu Sans"'
const F_SCALE = 'bold 27px "DejaVu Sans"'
const F_DEPTH = 'bold 29px "DejaVu Sans"'
const F_TOP = 'bold 25px "DejaVu Sans"'

// * fill patterns
function tile(w, h, paint) {
  const c = document.createElement('canvas')
  c.width = w
  c.height = h
  paint(c.getContext('2d'))
  return c
}
const sandTile = tile(8, 10, (g) => {
  g.fillStyle = '#ffff00'
  g.fillRect(0, 0, 8, 10)
  g.fillStyle = '#1a1a1a'
  g.fillRect(1, 1, 2, 2)
  g.fillRect(5, 6, 2, 2)
})
const shaleTile = tile(14, 12, (g) => {
  g.fillStyle = '#5c5c5c'
  g.fillRect(0, 0, 14, 12)
  g.fillStyle = '#101010'
  g.fillRect(0, 2, 10, 2)
  g.fillRect(7, 8, 7, 2)
  g.fillRect(0, 8, 3, 2)
})
const SAND_FILL = { image: sandTile, repeat: 'repeat' }
const SHALE_FILL = { image: shaleTile, repeat: 'repeat' }

const measure = document.createElement('canvas').getContext('2d')
measure.font = F_TOP

// * grids / axes
const grid = []
const xAxis = []
const yAxis = []
const series = []
for (let i = 0; i < 14; i++) {
  grid.push({ left: X[i], top: GRID_TOP, width: X[i + 1] - X[i], height: GRID_BOTTOM - GRID_TOP })
  yAxis.push({ gridIndex: i, type: 'value', min: DEPTH_MIN, max: DEPTH_MAX, inverse: true, show: false })
}
function addAxis(g, opt) {
  xAxis.push(Object.assign({ gridIndex: g, type: 'value', show: false }, opt))
  return xAxis.length - 1
}
const base = []
for (let i = 0; i < 14; i++) {
  base.push(addAxis(i, {
    show: true, min: 0, max: 10, interval: 1,
    axisLine: { show: false }, axisTick: { show: false }, axisLabel: { show: false },
    splitLine: { show: i !== 1 && i !== 3, lineStyle: { color: '#c4c4c4', width: 2 } }
  }))
}
const axCal = addAxis(0, { min: 7, max: 17 })
const axGR = addAxis(0, { min: 0, max: 150 })
const axRes = addAxis(1, { type: 'log', logBase: 10, min: 1, max: 200 })
const axRhob3 = addAxis(2, { min: 1.656, max: 2.64 })
const axDt3 = addAxis(2, { min: 62, max: 142, inverse: true })
const axCnl3 = addAxis(2, { min: 0.13, max: 0.73, inverse: true })
const axVcl = [4, 5, 6, 7].map((g) => addAxis(g, { min: 0, max: 1 }))
const axCnl = addAxis(8, { min: 0, max: 0.5 })
const axDt = addAxis(9, { min: 60, max: 110 })
const axRhob = addAxis(10, { min: 2.2, max: 2.7 })
const axVol = addAxis(11, { min: 0, max: 1 })
const axCoreSh = addAxis(11, { min: 0, max: 100 })
const axDelta = addAxis(12, { min: 0, max: 10 })
const axPor = addAxis(13, { min: 0, max: 0.2, inverse: true })
const axCorePor = addAxis(13, { min: 0, max: 20, inverse: true })

function curve(ax, g, data, color, width) {
  series.push({
    type: 'line', xAxisIndex: ax, yAxisIndex: g,
    data: data.map((p) => [p[1], p[0]]),
    symbol: 'none', showSymbol: false, silent: true,
    lineStyle: { color, width }, z: 5
  })
}
function custom(ax, g, data, renderItem, z) {
  series.push({ type: 'custom', xAxisIndex: ax, yAxisIndex: g, data, renderItem, silent: true, z })
}
function dots(ax, g, data, size, color, border) {
  series.push({
    type: 'scatter', xAxisIndex: ax, yAxisIndex: g,
    data: data.map((p) => [p[1], p[0]]),
    symbol: 'circle', symbolSize: size, silent: true,
    itemStyle: { color, borderColor: border, borderWidth: 1.2, opacity: 1 }, z: 6
  })
}

// horizontal 10 m lines, formation tops and sample marks on every track
for (let g = 0; g < 14; g++) {
  custom(base[g], g, DEPTH_TICKS.map((d) => [0, d]), (p, api) => {
    const y = api.coord([0, api.value(1)])[1]
    const cs = p.coordSys
    return { type: 'line', shape: { x1: cs.x, y1: y, x2: cs.x + cs.width, y2: y }, style: { stroke: '#bdbdbd', lineWidth: 2 } }
  }, 1)
  custom(base[g], g, TOP_DEPTHS.map((d) => [0, d]), (p, api) => {
    const y = api.coord([0, api.value(1)])[1]
    const cs = p.coordSys
    return { type: 'line', shape: { x1: cs.x, y1: y, x2: cs.x + cs.width, y2: y }, style: { stroke: '#111', lineWidth: 2 } }
  }, 4)
  if (g !== 11) {
    custom(base[g], g, MARK_DEPTHS.map((d) => [0, d]), (p, api) => {
      const y = api.coord([0, api.value(1)])[1]
      const cs = p.coordSys
      return { type: 'line', shape: { x1: cs.x + cs.width * 0.25, y1: y, x2: cs.x + cs.width * 0.75, y2: y }, style: { stroke: '#f4f04a', lineWidth: 5 } }
    }, 7)
  }
}

// track 1: caliper washout fill, BIT, CAL, GR
custom(axCal, 0, [[8.5, DEPTH_MIN]], (p, api) => {
  const bit = BIT[0][1]
  const pts = CAL.map((q) => api.coord([Math.max(q[1], bit), q[0]]))
  pts.push(api.coord([bit, CAL[CAL.length - 1][0]]), api.coord([bit, CAL[0][0]]))
  return { type: 'polygon', shape: { points: pts }, style: { fill: '#8c8c8c' } }
}, 2)
curve(axCal, 0, CAL, '#3c3c3c', 1.8)
curve(axCal, 0, BIT, '#000', 2.5)
curve(axGR, 0, GR, RED, 2.5)

// track 2: log grid, RS, Rt
custom(axRes, 1, LOG_GRID.map((v) => [v, DEPTH_MIN]), (p, api) => {
  const v = api.value(0)
  const a = api.coord([v, DEPTH_MIN])
  const b = api.coord([v, DEPTH_MAX])
  const decade = v === 10 || v === 100
  return { type: 'line', shape: { x1: a[0], y1: a[1], x2: b[0], y2: b[1] }, style: { stroke: decade ? '#a9a9a9' : '#cdcdcd', lineWidth: decade ? 3 : 2.5 } }
}, 1)
curve(axRes, 1, RS, '#4a4aff', 1.6)
curve(axRes, 1, RT, RED, 2.5)

// track 3: neutron / density separation, DT, CNL, RHOB
const rhobOnCnl3 = (v) => 0.73 - (v - 1.656) / (2.64 - 1.656) * (0.73 - 0.13)
custom(axCnl3, 2, [[0.5, DEPTH_MIN]], (p, api) => {
  const pts = CNL.map((q) => api.coord([q[1], q[0]]))
  for (let k = RHOB.length - 1; k >= 0; k--) pts.push(api.coord([rhobOnCnl3(RHOB[k][1]), RHOB[k][0]]))
  return { type: 'polygon', shape: { points: pts }, style: { fill: '#7c7c7c' } }
}, 2)
curve(axDt3, 2, DT, '#1a1a1a', 1.6)
curve(axCnl3, 2, CNL, '#2b2bd6', 1.6)
curve(axRhob3, 2, RHOB, '#ff4a4a', 1.6)

// track 4: depth labels
custom(base[3], 3, DEPTH_TICKS.map((d) => [5, d]), (p, api) => {
  const pt = api.coord([5, api.value(1)])
  return {
    type: 'group',
    children: [
      { type: 'rect', shape: { x: pt[0] - 42, y: pt[1] - 17, width: 84, height: 34 }, style: { fill: '#fff' } },
      { type: 'text', x: pt[0], y: pt[1], style: { text: String(api.value(1)), font: F_DEPTH, fill: '#000', align: 'center', verticalAlign: 'middle', textAlign: 'center', textVerticalAlign: 'middle' } }
    ]
  }
}, 8)

// tracks 5 - 8: shale volume
curve(axVcl[0], 4, VCL_ND, MAGENTA, 2.5)
curve(axVcl[0], 4, MODEL_VCL, BLUE, 2.5)
curve(axVcl[1], 5, VCLNS, RED, 2.5)
curve(axVcl[1], 5, MODEL_VCL, BLUE, 2.5)
curve(axVcl[2], 6, VCLN, RED, 2.5)
curve(axVcl[2], 6, MODEL_VCL, BLUE, 2.5)
curve(axVcl[3], 7, VCLRT, RED, 2.5)
curve(axVcl[3], 7, MODEL_VCL, BLUE, 2.5)

// tracks 9 - 11: measured vs model
curve(axCnl, 8, CNL, RED, 2.5)
curve(axCnl, 8, MODEL_CNL, BLUE, 2.5)
curve(axDt, 9, DT, RED, 2.5)
curve(axDt, 9, MODEL_DT, BLUE, 2.5)
curve(axRhob, 10, RHOB, RED, 2.5)
curve(axRhob, 10, MODEL_RHOB, BLUE, 2.5)

// track 12: lithology volume
custom(axVol, 11, [[0, DEPTH_MIN]], (p, api) => {
  const pts = [api.coord([0, MODEL_VCL[0][0]])]
  MODEL_VCL.forEach((q) => pts.push(api.coord([q[1], q[0]])))
  pts.push(api.coord([0, MODEL_VCL[MODEL_VCL.length - 1][0]]))
  return { type: 'polygon', shape: { points: pts }, style: { fill: SHALE_FILL } }
}, 2)
custom(axVol, 11, [[0, DEPTH_MIN]], (p, api) => {
  const pts = MODEL_VCL.map((q) => api.coord([q[1], q[0]]))
  for (let k = SAND_RIGHT.length - 1; k >= 0; k--) pts.push(api.coord([SAND_RIGHT[k][1], SAND_RIGHT[k][0]]))
  return { type: 'polygon', shape: { points: pts }, style: { fill: SAND_FILL } }
}, 2)
custom(axVol, 11, [[0, DEPTH_MIN]], (p, api) => {
  const pts = SAND_RIGHT.map((q) => api.coord([q[1], q[0]]))
  return { type: 'polyline', shape: { points: pts }, style: { stroke: '#333', lineWidth: 1.5, lineDash: [3, 3], fill: null } }
}, 3)
custom(base[11], 11, VOL_TICKS.map((v) => [v, DEPTH_MIN]), (p, api) => {
  const a = api.coord([api.value(0), DEPTH_MIN])
  const b = api.coord([api.value(0), DEPTH_MAX])
  return { type: 'line', shape: { x1: a[0], y1: a[1], x2: b[0], y2: b[1] }, style: { stroke: 'rgba(255,255,255,0.22)', lineWidth: 3 } }
}, 3)
dots(axCoreSh, 11, CORE_SH, 14, '#00eef6', '#00808a')

// track 13: error
curve(axDelta, 12, DELTA, BLUE, 2.5)

// track 14: porosity
curve(axPor, 13, POR, RED, 2.5)
dots(axCorePor, 13, CORE_POR, 11, '#12c412', '#005c00')

// formation top labels in track 1
custom(base[0], 0, TOP_DEPTHS.map((d, k) => [0, d, k]), (p, api) => {
  const y = api.coord([0, api.value(1)])[1]
  const cs = p.coordSys
  const name = TOP_NAMES[api.value(2)]
  const w = measure.measureText(name).width + 18
  return {
    type: 'group',
    children: [
      { type: 'rect', shape: { x: cs.x + 1, y: y - 38, width: w, height: 41 }, style: { fill: '#fff' } },
      { type: 'text', x: cs.x + 6, y: y - 18, style: { text: name, font: F_TOP, fill: '#000', align: 'left', verticalAlign: 'middle', textAlign: 'left', textVerticalAlign: 'middle' } }
    ]
  }
}, 8)

// * header and frame
const gfx = []
function gRect(x, y, w, h, style, z) {
  gfx.push({ type: 'rect', shape: { x, y, width: w, height: h }, style, z: z || 100, silent: true })
}
function gLine(x1, y1, x2, y2, stroke, w) {
  gfx.push({ type: 'line', shape: { x1, y1, x2, y2 }, style: { stroke, lineWidth: w }, z: 100, silent: true })
}
function gText(t, x, y, font, align) {
  const a = align || 'center'
  gfx.push({ type: 'text', x, y, style: { text: t, font, fill: '#111', align: a, verticalAlign: 'middle', textAlign: a, textVerticalAlign: 'middle' }, z: 102, silent: true })
}
function gDot(x, y, r, fill, stroke) {
  gfx.push({ type: 'circle', shape: { cx: x, cy: y, r }, style: { fill, stroke, lineWidth: 1.2 }, z: 102, silent: true })
}

// left window stripe
gRect(50, 51, 6, GRID_BOTTOM - 51, { fill: '#a6cdee' }, 99)

HEAD_TITLES.forEach((t, i) => gText(t, (X[i] + X[i + 1]) / 2, 70, F_HEAD))

HEAD_ROWS.forEach((rows, i) => {
  if (!rows) return
  const l = X[i]
  const r = X[i + 1]
  rows.forEach((row, k) => {
    const top = ROW_TOP[k]
    gText(row[0], (l + r) / 2, top + 23, F_HEAD)
    if (row[1]) gLine(l + 8, top + 44, r - 8, top + 44, row[1], row[2])
    gText(row[3], l + 5, top + 66, F_SCALE, 'left')
    gText(row[4], r - 5, top + 66, F_SCALE, 'right')
    if (row[5]) gText(row[5], (l + r) / 2, top + 66, F_SCALE)
  })
})
// DEPT cell
gText('DEPT', (X[3] + X[4]) / 2, 111, F_HEAD)
gText('m', (X[3] + X[4]) / 2, 155, F_HEAD)
// volume legend
gRect(1938, 98, 187, 32, { fill: SHALE_FILL })
gRect(1963, 130, 135, 40, { fill: SHALE_FILL })
gRect(2005, 112, 53, 45, { fill: '#fff' }, 101)
gText('sh', 2031, 134, F_HEAD)
gText('0', 1933, 155, F_SCALE, 'left')
gText('1', 2128, 155, F_SCALE, 'right')
gRect(1938, 187, 187, 26, { fill: SAND_FILL })
gRect(1963, 213, 135, 45, { fill: SAND_FILL })
gRect(1980, 200, 100, 42, { fill: '#fff' }, 101)
gText('sand', 2030, 221, F_HEAD)
gText('0', 1933, 243, F_SCALE, 'left')
gText('1', 2128, 243, F_SCALE, 'right')
gText('Core Shale', 2030, 288, F_HEAD)
gText('0', 1933, 332, F_SCALE, 'left')
gDot(2032, 332, 7.5, '#00eef6', '#00808a')
gText('100', 2128, 332, F_SCALE, 'right')
// core porosity legend dot
gDot((X[13] + X[14]) / 2, 243, 5.5, '#12c412', '#005c00')

// header rules
gLine(56, 51, 2411, 51, '#000', 3)
gLine(56, 88, 2411, 88, '#000', 3)
gLine(56, 178, 2411, 178, '#222', 2)
gLine(56, 265, 577, 265, '#111', 3)
gLine(679, 265, 2133, 265, '#111', 3)
gLine(2237, 265, 2411, 265, '#111', 3)
gLine(56, 352, 230, 352, '#555', 2)
gLine(403, 352, 577, 352, '#555', 2)
gLine(1927, 352, 2133, 352, '#555', 2)
X.forEach((x, i) => {
  const tall = [0, 1, 2, 3, 11, 12, 14].indexOf(i) >= 0
  gLine(x, 51, x, tall ? 362 : 265, '#000', 3)
  gLine(x, GRID_TOP, x, GRID_BOTTOM, '#000', 3)
})
gRect(56, 361, 2355, 10, { fill: '#000' })

const myChart = echarts.init(document.getElementById('log'), null, { width: 2471, height: 2676 })
const option = {
  animation: false,
  backgroundColor: '#fff',
  grid,
  xAxis,
  yAxis,
  series,
  graphic: gfx
}
myChart.setOption(option)
</script>
</body>
</html>
